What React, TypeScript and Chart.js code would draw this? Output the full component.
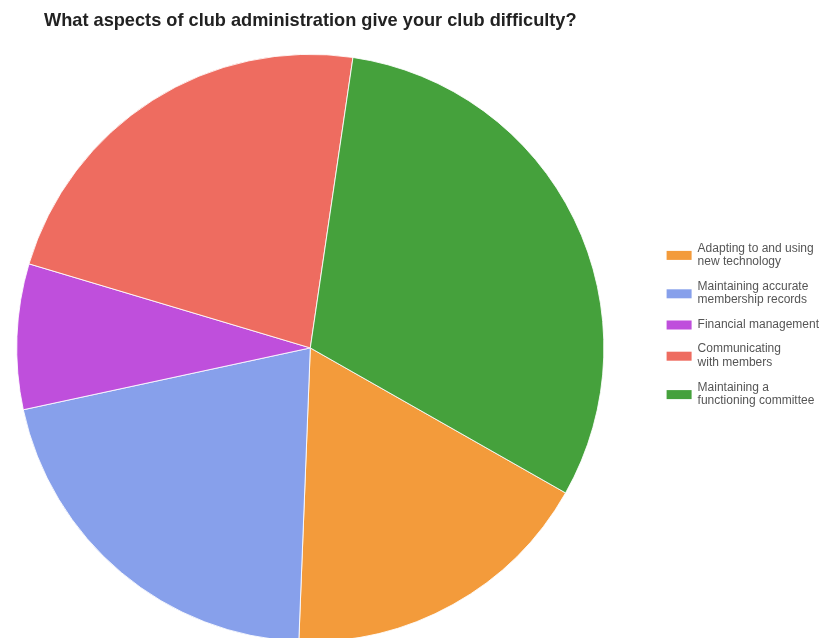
import React, { useEffect, useRef } from "react";
import { Chart, registerables } from "chart.js";

Chart.register(...registerables);

const TITLE = "What aspects of club administration give your club difficulty?";
const CATEGORIES: (string | string[])[] = [
  ["Adapting to and using", "new technology"],
  ["Maintaining accurate", "membership records"],
  "Financial management",
  ["Communicating", "with members"],
  ["Maintaining a", "functioning committee"],
];
const VALUES = [17.4, 21.0, 8.0, 22.7, 30.9];
const COLORS = ["#F39B3B", "#87A0EB", "#BF4FDC", "#EE6C60", "#45A13C"];
const START_ANGLE = 119.6;

const SWATCH_W = 25;
const SWATCH_H = 9;

// Draws legend swatches vertically centred on multi-line labels (as in the reference).
const centeredSwatches = {
  id: "centeredSwatches",
  afterDraw(chart: any) {
    const legend = chart.legend;
    if (!legend || !legend.legendHitBoxes) return;
    const ctx = chart.ctx;
    ctx.save();
    legend.legendHitBoxes.forEach((hb: any, i: number) => {
      ctx.fillStyle = COLORS[i % COLORS.length];
      ctx.fillRect(hb.left, hb.top + hb.height / 2 - SWATCH_H / 2, SWATCH_W, SWATCH_H);
    });
    ctx.restore();
  },
};

export default function App() {
  const ref = useRef<HTMLCanvasElement | null>(null);

  useEffect(() => {
    document.body.style.margin = "0";
    document.body.style.overflow = "hidden";
    const canvas = ref.current;
    if (!canvas) return;
    const baseGenerate = (Chart as any).overrides.pie.plugins.legend.labels.generateLabels;
    const chart = new Chart(canvas, {
      type: "pie",
      data: {
        labels: CATEGORIES as any,
        datasets: [
          {
            data: VALUES,
            backgroundColor: COLORS,
            borderColor: "rgba(255,255,255,0.85)",
            borderWidth: 1,
          },
        ],
      },
      options: {
        responsive: false,
        animation: false,
        rotation: START_ANGLE,
        layout: { padding: { left: 0, right: -5, top: 0, bottom: 18 } },
        plugins: {
          title: {
            display: true,
            text: TITLE,
            fullSize: false,
            color: "#222222",
            font: { family: "'Liberation Sans', Arial, sans-serif", size: 18.2, weight: "bold" },
            padding: { top: 10, bottom: 22 },
          },
          legend: {
            display: true,
            position: "right",
            align: "center",
            title: {
              display: true,
              text: "",
              font: { size: 8, lineHeight: 1 },
              padding: 0,
            },
            labels: {
              boxWidth: SWATCH_W,
              boxHeight: SWATCH_H,
              padding: 12,
              color: "#555555",
              font: { family: "'Liberation Sans', Arial, sans-serif", size: 12, lineHeight: 1.1 },
              generateLabels: (c: any) =>
                baseGenerate(c).map((item: any) => ({
                  ...item,
                  fillStyle: "rgba(0,0,0,0)",
                  strokeStyle: "rgba(0,0,0,0)",
                  lineWidth: 0,
                })),
            },
          },
          tooltip: { enabled: false },
        },
      },
      plugins: [centeredSwatches],
    });
    return () => chart.destroy();
  }, []);

  return (
    <div style={{ position: "absolute", left: -34, top: 0, width: 858, height: 660 }}>
      <canvas ref={ref} width={858} height={660} style={{ display: "block" }} />
    </div>
  );
}
